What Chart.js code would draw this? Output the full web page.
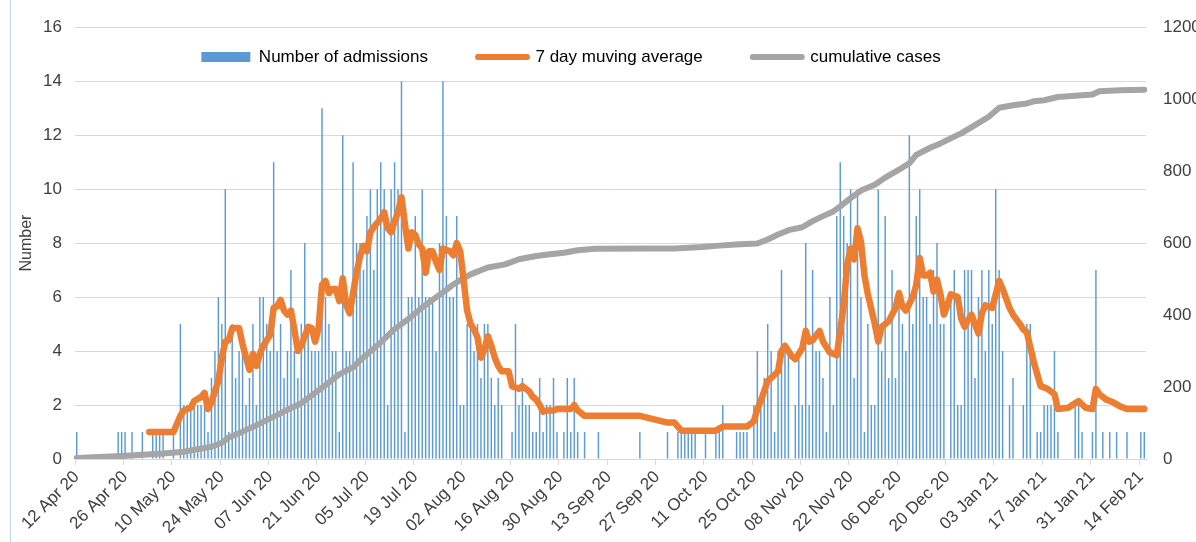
<!DOCTYPE html>
<html>
<head>
<meta charset="utf-8">
<script src="https://cdn.jsdelivr.net/npm/chart.js@4.4.1/dist/chart.umd.min.js"></script>
<style>
html,body{margin:0;padding:0;background:#fff;}
#wrap{position:relative;width:1196px;height:542px;}
canvas{display:block;}
</style>
</head>
<body>
<div id="wrap"><canvas id="c" width="1196" height="542"></canvas></div>
<script>
// ---------- data ----------
const tickLabels = ["12 Apr 20","26 Apr 20","10 May 20","24 May 20","07 Jun 20","21 Jun 20","05 Jul 20","19 Jul 20",
  "02 Aug 20","16 Aug 20","30 Aug 20","13 Sep 20","27 Sep 20","11 Oct 20","25 Oct 20","08 Nov 20","22 Nov 20",
  "06 Dec 20","20 Dec 20","03 Jan 21","17 Jan 21","31 Jan 21","14 Feb 21"];

const legendLabels = ["Number of admissions", "7 day muving average", "cumulative cases"];

// daily admissions, 12 Apr 20 .. 15 Feb 21
const admissions = [
  1,0,0,0,0,0,0,0,0,0,
  0,0,1,1,1,0,1,0,0,1,
  0,0,1,1,1,1,0,0,1,0,
  5,2,2,2,2,2,2,2,1,3,
  4,6,5,10,1,5,3,4,4,2,
  3,5,2,6,6,5,4,11,4,5,
  3,4,7,4,3,5,8,5,4,4,
  4,13,6,5,4,4,1,12,4,4,
  11,8,8,7,9,10,7,10,11,10,
  2,10,11,10,14,1,6,6,9,6,
  10,6,6,6,4,8,14,9,6,6,
  9,2,2,5,5,4,5,3,5,5,
  3,2,3,2,0,0,1,5,2,3,
  2,2,1,1,3,1,2,2,3,1,
  0,1,3,1,3,1,0,1,0,0,
  0,1,0,0,0,0,0,0,0,0,
  0,0,0,1,0,0,0,0,0,0,
  0,1,0,0,1,1,1,1,1,1,
  0,0,1,0,0,1,1,2,0,0,
  0,1,1,1,1,0,2,4,2,3,
  5,4,1,4,7,4,4,0,2,4,
  2,8,2,7,4,4,3,1,6,2,
  9,11,9,8,10,3,10,6,1,5,
  2,2,10,4,9,3,7,3,6,5,
  4,12,5,9,10,6,6,5,7,8,
  5,5,0,6,7,2,2,7,7,7,
  3,6,7,4,7,5,10,7,4,0,
  2,3,0,0,2,5,5,0,1,1,
  2,2,2,4,1,0,0,0,0,2,
  2,1,0,0,1,7,0,1,0,1,
  0,1,0,0,1,0,0,0,1,1
];

// 7 day moving average, [day index, value]
const movingAvg = [
  [21,1.0],[28,1.0],[30,1.6],[31,1.8],[33,1.9],[34,2.15],[36,2.3],[37,2.45],[38,1.85],[39,2.1],
  [41,2.9],[42,3.75],[43,4.35],[44,4.4],[45,4.85],[47,4.85],[48,4.25],[50,3.3],[51,3.9],[52,3.45],
  [53,3.9],[54,4.2],[56,4.6],[57,5.6],[58,5.65],[59,5.9],[60,5.5],[61,5.35],[62,5.5],[63,4.8],
  [64,4.0],[65,4.2],[67,4.9],[68,4.85],[69,4.35],[70,4.85],[71,6.45],[72,6.6],[73,6.15],[74,6.3],
  [75,6.3],[76,5.85],[77,6.7],[78,5.7],[79,5.4],[81,6.9],[82,7.5],[83,7.9],[84,7.7],[85,8.4],
  [86,8.6],[88,8.9],[89,9.15],[90,8.55],[91,8.4],[92,8.8],[93,9.15],[94,9.7],[95,8.7],[96,7.8],
  [97,8.4],[98,8.3],[99,7.95],[100,7.8],[101,6.9],[102,7.7],[103,7.7],[104,7.3],[105,7.0],[106,7.8],
  [108,7.7],[109,7.55],[110,8.0],[111,7.7],[112,6.6],[113,5.5],[114,5.0],[115,4.8],[116,4.5],[117,3.75],
  [118,4.05],[119,4.55],[120,4.2],[121,3.75],[122,3.45],[123,3.25],[125,3.25],[126,2.7],[127,2.65],[128,2.6],
  [129,2.7],[131,2.5],[132,2.3],[133,2.2],[134,2.0],[135,1.75],[136,1.8],[138,1.8],[139,1.85],[143,1.85],
  [144,2.0],[145,1.8],[147,1.6],[163,1.6],[171,1.35],[173,1.35],[175,1.05],[185,1.05],[187,1.2],[194,1.2],
  [196,1.4],[197,1.85],[198,2.15],[200,2.9],[201,3.0],[203,3.25],[204,4.0],[205,4.2],[207,3.8],[208,3.7],
  [210,4.1],[211,4.75],[212,4.35],[213,4.4],[215,4.75],[216,4.35],[218,3.95],[220,3.85],[222,5.7],[223,7.2],
  [224,7.8],[225,7.4],[226,8.55],[227,8.05],[228,6.8],[229,6.1],[231,5.0],[232,4.35],[233,4.9],[235,5.1],
  [236,5.35],[237,5.6],[238,6.15],[239,5.65],[240,5.5],[242,6.0],[243,6.45],[244,7.45],[245,6.8],[246,6.8],
  [247,6.9],[248,6.2],[249,6.65],[250,6.1],[251,5.35],[252,5.7],[253,6.1],[255,6.0],[256,5.2],[257,4.9],
  [258,5.15],[259,5.35],[260,5.0],[261,4.65],[262,5.4],[263,5.7],[265,5.6],[266,6.1],[267,6.6],[268,6.3],
  [270,5.6],[271,5.35],[273,5.0],[274,4.8],[275,4.7],[277,3.6],[278,3.15],[279,2.7],[281,2.6],[282,2.5],
  [283,2.4],[284,1.85],[287,1.9],[290,2.15],[292,1.9],[294,1.85],[295,2.6],[296,2.4],[298,2.2],[300,2.1],
  [302,1.95],[304,1.85],[309,1.85]
];

// cumulative cases (right axis), [day index, value]
const cumulative = [
  [0,3],[13,8],[25,15],[31,20],[39,34],[42,45],[44,60],[48,76],[52,94],[55,108],
  [58,122],[61,137],[65,155],[68,177],[72,205],[76,235],[80,255],[83,283],[88,324],[92,361],
  [96,389],[100,421],[104,449],[107,470],[109,485],[111,497],[114,513],[119,532],[124,541],[128,555],
  [133,564],[137,569],[141,573],[145,580],[150,584],[165,585],[173,585],[181,589],[186,593],[192,597],
  [197,599],[200,610],[203,624],[206,636],[210,644],[213,661],[216,675],[219,688],[221,702],[224,725],
  [227,746],[231,762],[234,782],[238,804],[241,822],[243,845],[247,865],[250,877],[254,896],[256,905],
  [260,928],[264,951],[267,976],[271,983],[275,988],[277,994],[280,997],[284,1006],[288,1009],[294,1013],
  [296,1022],[302,1025],[309,1026]
];

// ---------- categories (one per day) ----------
const MONTHS = ["Jan","Feb","Mar","Apr","May","Jun","Jul","Aug","Sep","Oct","Nov","Dec"];
const categories = admissions.map((_, i) => {
  const d = new Date(Date.UTC(2020, 3, 12 + i));
  return String(d.getUTCDate()).padStart(2, "0") + " " + MONTHS[d.getUTCMonth()] + " " + String(d.getUTCFullYear()).slice(2);
});

// ---------- styles ----------
const BLUE = "#5B9BD5", ORANGE = "#ED7D31", GREY = "#A5A5A5", GRID = "#D9D9D9", TEXT = "#404040";

Chart.defaults.font.family = "'Liberation Sans', Arial, sans-serif";
Chart.defaults.font.size = 17;
Chart.defaults.color = TEXT;

const chartBorder = {
  id: "chartBorder",
  beforeDraw(chart) {
    const ctx = chart.ctx;
    ctx.save();
    ctx.strokeStyle = "#BDD7EE";
    ctx.lineWidth = 1;
    ctx.beginPath();
    ctx.moveTo(10.5, 0);
    ctx.lineTo(10.5, chart.height);
    ctx.stroke();
    ctx.restore();
  }
};

const legendOverlay = {
  id: "legendOverlay",
  afterInit(chart) {
    const lg = chart.legend;
    const fit = lg.fit;
    lg.fit = function () { fit.call(this); this._fullHeight = this.height; this.height = 0; };
  },
  afterLayout(chart) {
    const lg = chart.legend;
    const shift = -27;
    lg.left = shift;
    lg.right = chart.width + shift;
    lg.top = -1.5;
    lg.height = lg._fullHeight;
    lg.bottom = lg.top + lg._fullHeight;
  }
};

new Chart(document.getElementById("c"), {
  type: "bar",
  data: {
    labels: categories,
    datasets: [
      {
        type: "bar", label: legendLabels[0], data: admissions,
        backgroundColor: BLUE, borderWidth: 0,
        barPercentage: 0.42, categoryPercentage: 1.0,
        yAxisID: "y", order: 3
      },
      {
        type: "line", label: legendLabels[1],
        data: movingAvg.map(([d, v]) => ({ x: categories[d], y: v })),
        borderColor: ORANGE, backgroundColor: ORANGE, borderWidth: 6.5,
        pointRadius: 0, tension: 0, borderJoinStyle: "round", borderCapStyle: "round",
        yAxisID: "y", order: 1
      },
      {
        type: "line", label: legendLabels[2],
        data: cumulative.map(([d, v]) => ({ x: categories[d], y: v })),
        borderColor: GREY, backgroundColor: GREY, borderWidth: 6,
        pointRadius: 0, tension: 0, borderJoinStyle: "round", borderCapStyle: "round",
        yAxisID: "y1", order: 2
      }
    ]
  },
  options: {
    responsive: false,
    devicePixelRatio: 1,
    animation: false,
    layout: { padding: { top: 25, left: 0, right: 0, bottom: 0 } },
    plugins: {
      tooltip: { enabled: false },
      legend: {
        display: true, position: "top", align: "center",
        labels: {
          usePointStyle: true, pointStyleWidth: 49, boxHeight: 10, padding: 50,
          color: TEXT, font: { size: 17 },
          generateLabels: () => [
            { text: legendLabels[0], fillStyle: BLUE, strokeStyle: BLUE, lineWidth: 0, pointStyle: "rect", datasetIndex: 0, hidden: false },
            { text: legendLabels[1], fillStyle: ORANGE, strokeStyle: ORANGE, lineWidth: 6, lineCap: "round", pointStyle: "line", datasetIndex: 1, hidden: false },
            { text: legendLabels[2], fillStyle: GREY, strokeStyle: GREY, lineWidth: 6, lineCap: "round", pointStyle: "line", datasetIndex: 2, hidden: false }
          ]
        }
      }
    },
    scales: {
      x: {
        type: "category",
        offset: true,
        afterFit: (s) => { s.height = 83; },
        grid: {
          display: true, drawOnChartArea: false, drawTicks: true, tickLength: 6, offset: true,
          color: (c) => tickLabels.includes(categories[c.index]) ? GRID : "rgba(0,0,0,0)", lineWidth: 1
        },
        border: { display: true, color: GRID, width: 1 },
        ticks: {
          autoSkip: false, maxRotation: 45, minRotation: 45, padding: 2, color: TEXT,
          callback: (v, i) => tickLabels.includes(categories[i]) ? categories[i] : ""
        }
      },
      y: {
        position: "left", min: 0, max: 16,
        afterFit: (s) => { s.width = 75; },
        ticks: { stepSize: 2, padding: 13, color: TEXT },
        grid: { color: GRID, lineWidth: 1, drawTicks: false },
        border: { display: false },
        title: { display: true, text: "Number", color: TEXT, font: { size: 16 }, padding: { top: 17, bottom: 0 } }
      },
      y1: {
        position: "right", min: 0, max: 1200,
        afterFit: (s) => { s.width = 50; },
        ticks: { stepSize: 200, padding: 17, color: TEXT, callback: (v) => String(v) },
        grid: { display: false, drawTicks: false },
        border: { display: false }
      }
    }
  },
  plugins: [chartBorder, legendOverlay]
});
</script>
</body>
</html>
